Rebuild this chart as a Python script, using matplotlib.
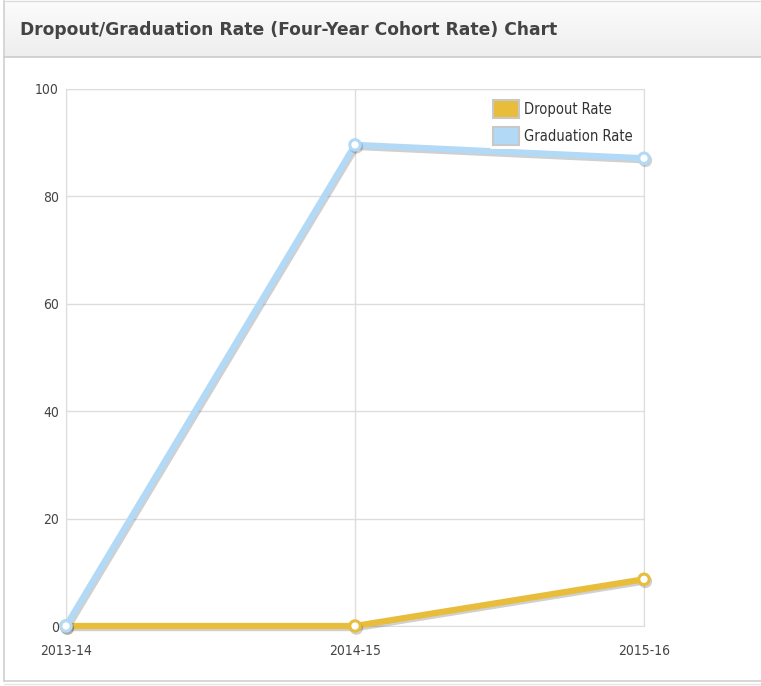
import numpy as np
import matplotlib.pyplot as plt
import matplotlib.patheffects as pe
from matplotlib.patches import Patch
from matplotlib.lines import Line2D
from matplotlib.colors import LinearSegmentedColormap
from matplotlib import font_manager

years = ["2013-14", "2014-15", "2015-16"]
dropout_rate = [0.0, 0.0, 8.7]
graduation_rate = [0.0, 89.6, 87.1]

drop_color = "#e8bd3c"
grad_color = "#b2d9f5"

label_font = font_manager.FontProperties(family="DejaVu Sans", stretch="condensed", size=10)
legend_font = font_manager.FontProperties(family="DejaVu Sans", stretch="condensed", size=10.5)

W, H = 761, 686
fig = plt.figure(figsize=(W / 100, H / 100), dpi=100)
fig.patch.set_facecolor("white")

# panel outline
fig.add_artist(Line2D([4 / W, 4 / W], [1 - 681 / H, 1 - 1 / H], color="#cfcfcf", lw=1.2))
fig.add_artist(Line2D([4 / W, 1], [1 - 681 / H, 1 - 681 / H], color="#cfcfcf", lw=1.2))
fig.add_artist(Line2D([4 / W, 1], [1 - 684 / H, 1 - 684 / H], color="#e6e6e6", lw=1.0))
fig.add_artist(Line2D([4 / W, 1], [1 - 1 / H, 1 - 1 / H], color="#dcdcdc", lw=1.0))

# header band with a soft gradient
hax = fig.add_axes([4.5 / W, 1 - 57 / H, 1 - 4.5 / W, 56 / H])
grad = np.linspace(0, 1, 64).reshape(-1, 1)
hax.imshow(grad, aspect="auto", cmap=LinearSegmentedColormap.from_list("hdr", ["#fcfcfc", "#eeeeee"]),
           extent=[0, 1, 0, 1], origin="upper")
hax.set_axis_off()
fig.add_artist(Line2D([4 / W, 1], [1 - 57 / H, 1 - 57 / H], color="#cccccc", lw=1.2))
fig.text(20 / W, 1 - 30 / H, "Dropout/Graduation Rate (Four-Year Cohort Rate) Chart",
         fontsize=12.3, fontweight="bold", color="#444444", va="center", ha="left")

# chart area
ax = fig.add_axes([66 / W, 1 - 626 / H, (644 - 66) / W, (626 - 89) / H])
x = np.arange(len(years))
shadow = [pe.SimpleLineShadow(offset=(1.0, -1.5), shadow_color="#444444", alpha=0.25), pe.Normal()]
ax.plot(x, dropout_rate, color=drop_color, lw=4.5, marker="o", ms=7.5, mfc="white",
        mec=drop_color, mew=2.2, path_effects=shadow, zorder=3, clip_on=False)
ax.plot(x, graduation_rate, color=grad_color, lw=4.5, marker="o", ms=7.5, mfc="white",
        mec=grad_color, mew=2.2, path_effects=shadow, zorder=4, clip_on=False)

ax.set_xlim(0, 2)
ax.set_ylim(0, 100)
ax.set_xticks(x)
ax.set_xticklabels(years)
ax.set_yticks([0, 20, 40, 60, 80, 100])
ax.tick_params(length=0, labelcolor="#444444")
ax.tick_params(axis="x", pad=13)
ax.tick_params(axis="y", pad=5)
for lbl in ax.get_xticklabels() + ax.get_yticklabels():
    lbl.set_fontproperties(label_font)
ax.grid(True, color="#dddddd", lw=1)
ax.set_axisbelow(True)
for s in ax.spines.values():
    s.set_color("#dddddd")

handles = [Patch(facecolor=drop_color, edgecolor="#c8c8c8", lw=1.5, label="Dropout Rate"),
           Patch(facecolor=grad_color, edgecolor="#c8c8c8", lw=1.5, label="Graduation Rate")]
leg = ax.legend(handles=handles, loc="upper right", bbox_to_anchor=(1 - 7 / 578, 1 - 7 / 537),
                prop=legend_font, frameon=True, framealpha=1, edgecolor="none", facecolor="white",
                handlelength=1.75, handleheight=1.5, handletextpad=0.35, labelspacing=0.6,
                borderpad=0.3, borderaxespad=0)
for t in leg.get_texts():
    t.set_color("#333333")
leg.set_zorder(5)

fig.savefig("out.png", dpi=100)
